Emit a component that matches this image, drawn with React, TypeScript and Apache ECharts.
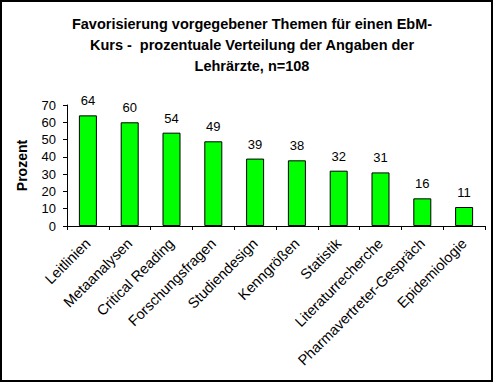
import React, { useEffect, useRef } from "react";
import * as echarts from "echarts";

const categories = [
  "Leitlinien",
  "Metaanalysen",
  "Critical Reading",
  "Forschungsfragen",
  "Studiendesign",
  "Kenngrößen",
  "Statistik",
  "Literaturrecherche",
  "Pharmavertreter-Gespräch",
  "Epidemiologie",
];
const values = [64, 60, 54, 49, 39, 38, 32, 31, 16, 11];
const titleText =
  "Favorisierung vorgegebener Themen für einen EbM-\nKurs -  prozentuale Verteilung der Angaben der\nLehrärzte, n=108";
const yAxisName = "Prozent";

const FONT = "'Liberation Sans', Arial, sans-serif";

export default function App() {
  const ref = useRef<HTMLDivElement>(null);
  useEffect(() => {
    if (!ref.current) return;
    const chart = echarts.init(ref.current, undefined, { renderer: "svg" });
    chart.setOption({
      animation: false,
      backgroundColor: "#ffffff",
      title: {
        text: titleText,
        left: 247,
        top: 8,
        textAlign: "center",
        textStyle: {
          fontFamily: FONT,
          fontWeight: "bold",
          fontSize: 14.5,
          lineHeight: 21,
          color: "#000",
        },
      },
      graphic: [
        {
          type: "rect",
          shape: { x: 1, y: 1, width: 491, height: 380 },
          style: { fill: "none", stroke: "#000", lineWidth: 2 },
          silent: true,
          z: 100,
        },
      ],
      grid: { left: 67, right: 9, top: 105, bottom: 157, containLabel: false },
      xAxis: {
        type: "category",
        data: categories,
        boundaryGap: true,
        axisLine: { show: true, lineStyle: { color: "#000", width: 1 } },
        axisTick: { show: true, alignWithLabel: false, length: 4, lineStyle: { color: "#000" } },
        axisLabel: {
          interval: 0,
          rotate: 45,
          margin: 15,
          fontFamily: FONT,
          fontSize: 14.5,
          color: "#000",
        },
        splitLine: { show: false },
      },
      yAxis: {
        type: "value",
        min: 0,
        max: 70,
        interval: 10,
        name: yAxisName,
        nameLocation: "middle",
        nameRotate: 90,
        nameGap: 38,
        nameTextStyle: {
          fontFamily: FONT,
          fontWeight: "bold",
          fontSize: 14,
          color: "#000",
        },
        axisLine: { show: true, lineStyle: { color: "#000", width: 1 } },
        axisTick: { show: true, length: 4, lineStyle: { color: "#000" } },
        axisLabel: { margin: 11, fontFamily: FONT, fontSize: 13, color: "#000" },
        splitLine: { show: false },
      },
      series: [
        {
          type: "bar",
          data: values,
          barWidth: 18,
          itemStyle: { color: "#00ff00", borderColor: "#000", borderWidth: 1 },
          label: {
            show: true,
            position: "top",
            distance: 8,
            fontFamily: FONT,
            fontSize: 13,
            color: "#000",
          },
        },
      ],
    });
    return () => chart.dispose();
  }, []);
  return (
    <div
      ref={ref}
      style={{ position: "fixed", left: 0, top: 0, width: 494, height: 383 }}
    />
  );
}
